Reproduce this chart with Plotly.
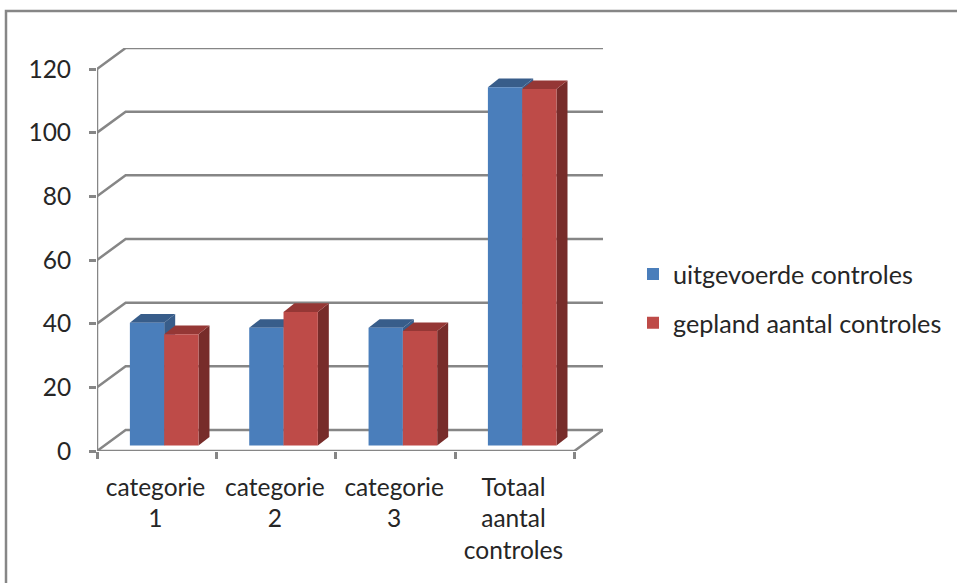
import plotly.graph_objects as go

categories = ["categorie<br>1", "categorie<br>2", "categorie<br>3", "Totaal<br>aantal<br>controles"]
uitgevoerde = [38.6, 37, 37, 112.6]
gepland = [35, 42, 36, 112]
y_ticks = [0, 20, 40, 60, 80, 100, 120]
series_names = ["uitgevoerde controles", "gepland aantal controles"]

WALL_DX, WALL_DY = 0.24, 6.6
BAR_SHIFT_X, BAR_BASE = 0.063, 1.7
BAR_DX, BAR_DY = 0.092, 2.7
BAR_W = 0.2875
GREY = "#868686"
W, H = 957, 583
L, T, B = 97, 48, 132
PLOT_W = 506
PAPER_W = W - L
X_MAX, Y_MAX = 4 + WALL_DX, 120 + WALL_DY

n = len(categories)
shapes = []


def line(pts, width=2.5):
    path = "M" + " L".join(f"{x} {y}" for x, y in pts)
    return dict(type="path", path=path, xref="x", yref="y", layer="below",
                line=dict(color=GREY, width=width))


def poly(pts, color):
    path = "M" + " L".join(f"{x} {y}" for x, y in pts) + " Z"
    return dict(type="path", path=path, xref="x", yref="y", layer="below",
                fillcolor=color, line=dict(width=0))


for t in y_ticks:
    shapes.append(line([(0, t), (WALL_DX, t + WALL_DY), (X_MAX, t + WALL_DY)]))
shapes.append(line([(0, 0), (n, 0), (X_MAX, WALL_DY)]))
shapes.append(line([(0, 0), (0, 120)]))

for values, offset, top_c, side_c in [
    (uitgevoerde, -BAR_W, "#385d8a", "#385d8a"),
    (gepland, 0, "#953735", "#772c2a"),
]:
    for i, v in enumerate(values):
        x0 = i + 0.5 + BAR_SHIFT_X + offset
        x1 = x0 + BAR_W
        top = BAR_BASE + v
        shapes.append(poly([(x1, BAR_BASE), (x1 + BAR_DX, BAR_BASE + BAR_DY),
                            (x1 + BAR_DX, top + BAR_DY), (x1, top)], side_c))
        shapes.append(poly([(x0, top), (x1, top), (x1 + BAR_DX, top + BAR_DY),
                            (x0 + BAR_DX, top + BAR_DY)], top_c))

# outer chart frame (only the left and top edges fall inside the picture)
fx0 = (6 - L) / PAPER_W
fy1 = (H - B - 11) / (H - T - B)
fy0 = (H - B - H) / (H - T - B)
shapes.append(dict(type="path", xref="paper", yref="paper", layer="below",
                   path=f"M{fx0} {fy0} L{fx0} {fy1} L1 {fy1}",
                   line=dict(color=GREY, width=2.5)))

centers = [i + 0.5 + BAR_SHIFT_X for i in range(n)]
fig = go.Figure()
for name, values, color in [(series_names[0], uitgevoerde, "#4a7ebb"),
                            (series_names[1], gepland, "#be4b48")]:
    fig.add_bar(x=centers, y=values, base=BAR_BASE, name=name, legendgroup=name,
                marker=dict(color=color, line=dict(width=0)))

FONT = dict(family="Lato, Carlito, sans-serif", size=24.5, color="#262626")
LEG_FONT = dict(family="Lato, Carlito, sans-serif", size=25.2, color="#262626")
fig.update_layout(
    width=W, height=H, autosize=False,
    margin=dict(l=L, r=0, t=T, b=B, pad=0),
    paper_bgcolor="white", plot_bgcolor="white",
    barmode="group", bargap=1 - 2 * BAR_W, bargroupgap=0,
    font=FONT, shapes=shapes,
    legend=dict(x=(633 - L) / PAPER_W, y=0.378, xanchor="left", yanchor="middle", font=LEG_FONT,
                tracegroupgap=13, bgcolor="rgba(0,0,0,0)", traceorder="grouped",
                itemwidth=30),
    xaxis=dict(domain=[0, PLOT_W / PAPER_W], range=[0, X_MAX], showgrid=False, zeroline=False,
               showline=False, tickmode="array", tickvals=[i + 0.49 for i in range(n)],
               ticktext=categories, ticks="", ticklabelstandoff=19, tickangle=0,
               minor=dict(tickmode="array", tickvals=list(range(n + 1)), ticks="outside",
                          ticklen=7, tickwidth=2.5, tickcolor=GREY, showgrid=False)),
    yaxis=dict(range=[0, Y_MAX], showgrid=False, zeroline=False, showline=False,
               tickmode="array", tickvals=y_ticks, ticks="outside", ticklen=7,
               tickwidth=2.5, tickcolor=GREY, ticklabelstandoff=13),
)
fig.write_html("out.html", config=dict(displayModeBar=False),
               post_script="document.body.style.margin='0';document.body.style.overflow='hidden';")
